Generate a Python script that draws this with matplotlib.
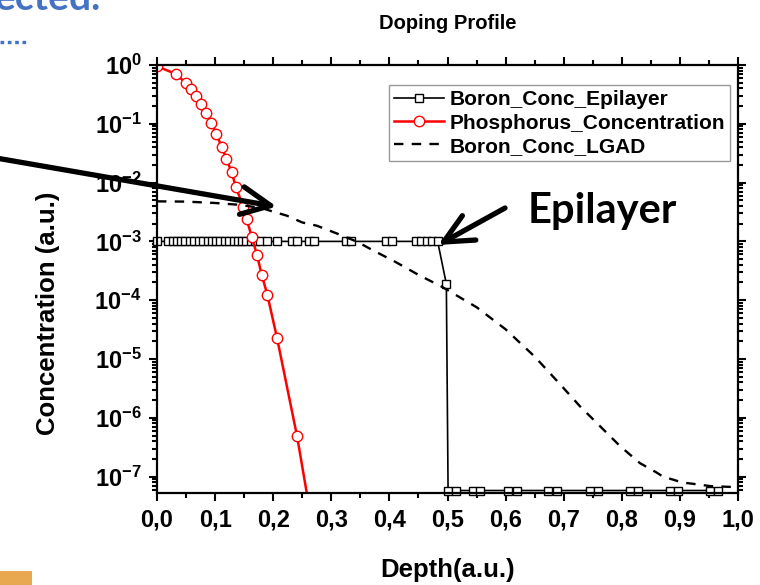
import matplotlib
matplotlib.use("Agg")
import matplotlib.pyplot as plt
from matplotlib.ticker import MultipleLocator, LogLocator, NullFormatter
from matplotlib.patches import Rectangle
from matplotlib.lines import Line2D

# Boron concentration of the epilayer (plateau, drop at 0.5, floor)
epi_depth = [0.0, 0.019, 0.027, 0.034, 0.042, 0.049, 0.057, 0.064, 0.072, 0.079,
             0.087, 0.094, 0.102, 0.109, 0.117, 0.124, 0.132, 0.139, 0.147, 0.154,
             0.162, 0.169, 0.177, 0.189, 0.206, 0.232, 0.241, 0.262, 0.271, 0.325,
             0.334, 0.395, 0.404, 0.445, 0.455, 0.464, 0.473, 0.483, 0.498,
             0.501, 0.514, 0.544, 0.556, 0.604, 0.620, 0.673, 0.688, 0.745, 0.759,
             0.814, 0.828, 0.883, 0.897, 0.952, 0.966]
epi_conc = [1e-3] * 38 + [1.9e-4] + [5.8e-8] * 16

# Phosphorus implant profile
phos_depth = [0.0, 0.0327, 0.0499, 0.0585, 0.0671, 0.0762, 0.0849, 0.0935, 0.1021,
              0.1114, 0.1193, 0.1286, 0.1355, 0.1485, 0.1544, 0.163, 0.1721, 0.1802,
              0.1898, 0.2065, 0.241, 0.262]
phos_conc = [0.95, 0.703, 0.489, 0.386, 0.297, 0.215, 0.151, 0.102, 0.0663,
             0.0408, 0.0255, 0.0150, 0.0085, 0.0039, 0.00238, 0.0012, 5.9e-4, 2.7e-4,
             1.25e-4, 2.3e-5, 4.9e-7, 3e-8]

# Boron profile of the LGAD
lgad_depth = [0.0, 0.05, 0.1, 0.14, 0.18, 0.2, 0.223, 0.25, 0.275, 0.315, 0.345,
              0.37, 0.41, 0.45, 0.49, 0.55, 0.6, 0.65, 0.694, 0.728, 0.7625, 0.797,
              0.831, 0.86, 0.871, 0.905, 0.92, 0.952, 1.0]
lgad_conc = [4.8e-3, 4.75e-3, 4.5e-3, 4.2e-3, 3.7e-3, 3.2e-3, 2.75e-3, 2.1e-3,
             1.85e-3, 1.3e-3, 9.8e-4, 7.2e-4, 4.5e-4, 2.7e-4, 1.7e-4, 7.6e-5, 3.2e-5,
             1.1e-5, 3.7e-6, 1.57e-6, 7.2e-7, 3.3e-7, 1.7e-7, 1.17e-7, 1.0e-7, 7.9e-8,
             7.6e-8, 6.9e-8, 6.6e-8]

x_ticks = [0.0, 0.1, 0.2, 0.3, 0.4, 0.5, 0.6, 0.7, 0.8, 0.9, 1.0]
x_tick_labels = ["0,0", "0,1", "0,2", "0,3", "0,4", "0,5", "0,6", "0,7", "0,8", "0,9", "1,0"]

plt.rcParams["font.family"] = ["Liberation Sans", "DejaVu Sans"]
plt.rcParams["font.weight"] = "bold"
plt.rcParams["axes.unicode_minus"] = False
plt.rcParams["mathtext.fontset"] = "custom"
plt.rcParams["mathtext.rm"] = "Liberation Sans:bold"
plt.rcParams["mathtext.it"] = "Liberation Sans:bold"
plt.rcParams["mathtext.bf"] = "Liberation Sans:bold"

W, H = 760, 585
fig = plt.figure(figsize=(7.6, 5.85), dpi=100)
fig.patch.set_facecolor("white")
fig.patches.append(Rectangle((0, 0), 32 / W, 14 / H, transform=fig.transFigure,
                             facecolor="#e8a850", edgecolor="none"))

ax = fig.add_axes([157 / W, 1 - 493.3 / H, (738 - 157) / W, (493.3 - 65) / H])
ax.set_facecolor("none")

ax.plot(epi_depth, epi_conc, "-", color="black", lw=1.2, marker="s", ms=5.5,
        mfc="white", mec="black", mew=1.0, clip_on=False, label="Boron_Conc_Epilayer")
ax.plot(phos_depth, phos_conc, "-", color="red", lw=1.8, marker="o", ms=7.5,
        mfc="white", mec="red", mew=1.0, label="Phosphorus_Concentration")
ax.plot(lgad_depth, lgad_conc, color="black", lw=1.7, linestyle=(0, (4, 3.5)),
        label="Boron_Conc_LGAD")

ax.set_yscale("log")
ax.set_xlim(0, 1)
ax.set_ylim(5.2e-8, 1)
ax.set_xticks(x_ticks, x_tick_labels)
ax.xaxis.set_minor_locator(MultipleLocator(0.05))
ax.yaxis.set_major_locator(LogLocator(base=10, numticks=12))
ax.yaxis.set_minor_locator(LogLocator(base=10, subs=range(2, 10), numticks=12))
ax.yaxis.set_minor_formatter(NullFormatter())

for s in ax.spines.values():
    s.set_linewidth(1.6)
ax.tick_params(which="both", direction="out", top=True, right=True, width=1.5,
               labelsize=17)
ax.tick_params(which="major", length=6, pad=5)
ax.tick_params(which="minor", length=3.5)

ax.set_title("Doping Profile", fontsize=14.5, fontweight="bold", pad=26)
ax.set_xlabel("Depth(a.u.)", fontsize=18.5, fontweight="bold")
ax.xaxis.set_label_coords(0.5, -0.152)
ax.set_ylabel("Concentration (a.u.)", fontsize=18.5, fontweight="bold")
ax.yaxis.set_label_coords(-0.167, 0.42)

leg = ax.legend(loc="upper right", bbox_to_anchor=(0.986, 0.953), borderaxespad=0,
                fontsize=15, frameon=True, fancybox=False, edgecolor="#808080",
                borderpad=0.25, labelspacing=0.2, handlelength=2.4, handletextpad=0.25)
leg.get_frame().set_linewidth(1.0)
for t in leg.get_texts():
    t.set_fontweight("bold")

arrow_style = dict(arrowstyle="->,head_length=1.05,head_width=0.5", lw=3.8,
                   color="black", mutation_scale=20, shrinkA=0, shrinkB=0)
ax.annotate("", xy=(0.206, 3.9e-3), xycoords="data", xytext=(-0.01, 0.731),
            textcoords="figure fraction", arrowprops=arrow_style, annotation_clip=False)
ax.annotate("", xy=(0.484, 8.7e-4), xycoords="data", xytext=(505 / W, 1 - 208 / H),
            textcoords="figure fraction", arrowprops=arrow_style, annotation_clip=False)

fig.text(528 / W, 1 - 223 / H, "Epilayer", ha="left", va="baseline", fontsize=30,
         family="Lato", fontweight="bold", color="black")

# slide fragments
fig.text(101 / W, 1 - 10 / H, "ected.", ha="right", va="baseline", fontsize=28,
         family="Lato", fontweight="bold", color="#4472c4")
fig.lines.append(Line2D([0, 28 / W], [1 - 42 / H, 1 - 42 / H], transform=fig.transFigure,
                        color="#4472c4", lw=2.4, linestyle=(0, (1.1, 1.1))))

fig.savefig("out.png", dpi=100)
